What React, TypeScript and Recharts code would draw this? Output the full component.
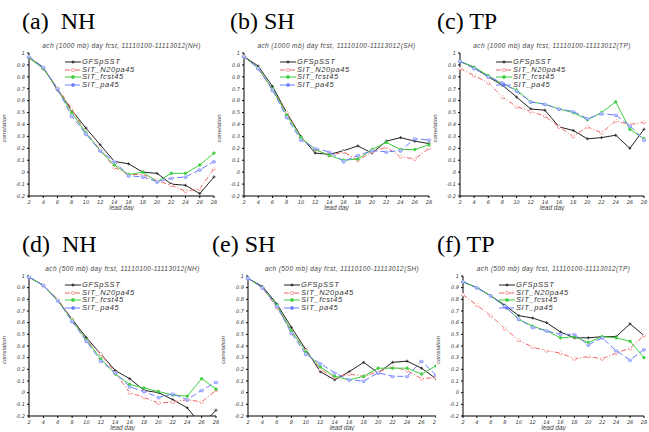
import React from "react";
import { LineChart, Line, XAxis, YAxis } from "recharts";

const days = [2, 4, 6, 8, 10, 12, 14, 16, 18, 20, 22, 24, 26, 28];
const yTicks = [-0.2, -0.1, 0, 0.1, 0.2, 0.3, 0.4, 0.5, 0.6, 0.7, 0.8, 0.9, 1];
const seriesNames = ["GFSpSST", "SIT_N20pa45", "SIT_fcst45", "SIT_pa45"];

// (a) NH 1000 mb
const aGfs = [0.96, 0.88, 0.69, 0.52, 0.37, 0.23, 0.09, 0.07, 0.0, -0.01, -0.1, -0.11, -0.18, -0.04];
const aN20 = [0.96, 0.87, 0.71, 0.53, 0.33, 0.19, 0.04, -0.02, -0.02, -0.07, -0.11, -0.16, -0.14, 0.03];
const aFcst = [0.96, 0.87, 0.7, 0.5, 0.33, 0.18, 0.06, -0.02, 0.0, -0.08, -0.01, -0.01, 0.06, 0.16];
const aPa = [0.97, 0.88, 0.7, 0.47, 0.32, 0.18, 0.09, -0.03, -0.04, -0.08, -0.05, -0.04, 0.02, 0.09];
// (b) SH 1000 mb
const bGfs = [0.97, 0.89, 0.72, 0.5, 0.3, 0.16, 0.15, 0.18, 0.22, 0.16, 0.26, 0.29, 0.26, 0.24];
const bN20 = [0.97, 0.87, 0.69, 0.5, 0.29, 0.19, 0.14, 0.17, 0.1, 0.17, 0.21, 0.13, 0.11, 0.2];
const bFcst = [0.97, 0.87, 0.7, 0.48, 0.29, 0.19, 0.14, 0.1, 0.11, 0.19, 0.25, 0.19, 0.19, 0.23];
const bPa = [0.97, 0.87, 0.69, 0.46, 0.27, 0.2, 0.17, 0.09, 0.14, 0.18, 0.17, 0.18, 0.28, 0.27];
// (c) TP 1000 mb
const cGfs = [0.93, 0.88, 0.8, 0.73, 0.63, 0.53, 0.52, 0.38, 0.35, 0.28, 0.29, 0.31, 0.2, 0.36];
const cN20 = [0.87, 0.81, 0.75, 0.63, 0.55, 0.51, 0.47, 0.38, 0.3, 0.38, 0.33, 0.43, 0.4, 0.42];
const cFcst = [0.93, 0.88, 0.81, 0.74, 0.69, 0.59, 0.57, 0.53, 0.5, 0.44, 0.5, 0.59, 0.36, 0.28];
const cPa = [0.93, 0.87, 0.8, 0.75, 0.68, 0.59, 0.57, 0.53, 0.51, 0.45, 0.49, 0.48, 0.39, 0.27];
// (d) NH 500 mb
const dGfs = [0.99, 0.92, 0.79, 0.63, 0.47, 0.33, 0.19, 0.12, 0.02, 0.0, -0.06, -0.13, -0.28, -0.15];
const dN20 = [0.99, 0.92, 0.8, 0.63, 0.45, 0.33, 0.17, 0.0, -0.04, -0.09, -0.08, -0.06, -0.08, 0.02];
const dFcst = [0.99, 0.92, 0.79, 0.62, 0.45, 0.29, 0.16, 0.07, 0.04, 0.01, -0.02, -0.03, 0.12, 0.03];
const dPa = [0.99, 0.92, 0.79, 0.61, 0.44, 0.27, 0.17, 0.05, 0.01, -0.04, -0.01, -0.06, 0.02, 0.09];
// (e) SH 500 mb
const eGfs = [0.98, 0.91, 0.76, 0.56, 0.37, 0.18, 0.11, 0.18, 0.26, 0.17, 0.26, 0.27, 0.21, 0.12];
const eN20 = [0.98, 0.9, 0.73, 0.53, 0.36, 0.2, 0.13, 0.16, 0.14, 0.18, 0.22, 0.19, 0.12, 0.13];
const eFcst = [0.98, 0.9, 0.75, 0.53, 0.35, 0.22, 0.14, 0.11, 0.14, 0.21, 0.21, 0.21, 0.16, 0.23];
const ePa = [0.98, 0.9, 0.74, 0.51, 0.33, 0.25, 0.17, 0.11, 0.1, 0.17, 0.14, 0.14, 0.27, 0.15];
// (f) TP 500 mb
const fGfs = [0.95, 0.9, 0.83, 0.75, 0.66, 0.64, 0.6, 0.52, 0.47, 0.47, 0.48, 0.48, 0.59, 0.49];
const fN20 = [0.84, 0.75, 0.66, 0.55, 0.45, 0.39, 0.36, 0.34, 0.29, 0.31, 0.29, 0.34, 0.38, 0.49];
const fFcst = [0.95, 0.9, 0.83, 0.74, 0.63, 0.57, 0.53, 0.47, 0.48, 0.43, 0.48, 0.47, 0.44, 0.3];
const fPa = [0.95, 0.9, 0.83, 0.74, 0.63, 0.56, 0.53, 0.5, 0.5, 0.41, 0.47, 0.36, 0.28, 0.37];

const COLORS = ["#222222", "#f26464", "#3fcf3f", "#6a7cff"];
const DASH = [undefined, "5 2 1 2", undefined, "6 3"];

function build(s: number[][]) {
  return days.map((d, i) => ({ day: d, s0: s[0][i], s1: s[1][i], s2: s[2][i], s3: s[3][i] }));
}

const PlusDot = (props: any) => {
  const { cx, cy } = props;
  if (cx == null || cy == null) return null;
  return (
    <g>
      <line x1={cx - 1.5} x2={cx + 1.5} y1={cy} y2={cy} stroke={COLORS[0]} strokeWidth={0.8} />
      <line x1={cx} x2={cx} y1={cy - 1.5} y2={cy + 1.5} stroke={COLORS[0]} strokeWidth={0.8} />
    </g>
  );
};

const LegendBox = () => (
  <div style={{ fontFamily: "Liberation Sans, Arial, sans-serif", fontStyle: "italic", fontSize: 7.5, color: "#333", lineHeight: "7.7px" }}>
    {seriesNames.map((n, i) => (
      <div key={n} style={{ display: "flex", alignItems: "center", whiteSpace: "nowrap" }}>
        <svg width={16} height={6} style={{ marginRight: 1 }}>
          <line x1={0} x2={16} y1={3} y2={3} stroke={COLORS[i]} strokeWidth={1} strokeDasharray={DASH[i]} />
          {i === 0 ? (
            <g>
              <line x1={6.5} x2={9.5} y1={3} y2={3} stroke={COLORS[0]} />
              <line x1={8} x2={8} y1={1.5} y2={4.5} stroke={COLORS[0]} />
            </g>
          ) : (
            <circle cx={8} cy={3} r={1.6} fill={i === 1 ? "#fff" : COLORS[i]} stroke={COLORS[i]} strokeWidth={0.6} />
          )}
        </svg>
        <span style={{ letterSpacing: 0.6 }}>{n}</span>
      </div>
    ))}
  </div>
);

type PanelProps = {
  tag: string;
  region: string;
  labelX: number;
  labelGap: string;
  plotX: number;
  plotY: number;
  plotW: number;
  plotH: number;
  level: string;
  series: number[][];
};

const YW = 27;
const XH = 15;
const TOPM = 2;

function Panel(p: PanelProps) {
  const data = build(p.series);
  const left = p.plotX - YW;
  const top = p.plotY - TOPM;
  const width = YW + p.plotW + 4;
  const height = TOPM + p.plotH + XH;
  return (
    <>
      <div
        style={{
          position: "absolute",
          left,
          top: top - 14,
          width: width,
          height: height + 14,
          background: "#fff",
        }}
      />
      <div
        style={{
          position: "absolute",
          left: p.labelX,
          top: p.plotY - 45,
          fontFamily: "Liberation Serif, Times New Roman, serif",
          fontSize: 24,
          lineHeight: "26px",
          whiteSpace: "pre",
          color: "#000",
        }}
      >
        {p.tag + p.labelGap + p.region}
      </div>
      <div style={{ position: "absolute", left, top }}>
        <LineChart width={width} height={height} data={data} margin={{ top: TOPM, right: 4, bottom: 0, left: 0 }}>
          <XAxis
            dataKey="day"
            type="number"
            domain={[2, 28]}
            ticks={days}
            height={XH}
            stroke="#000"
            strokeWidth={1}
            tickSize={2}
            interval={0}
            tick={{ fontSize: 5, fill: "#333", fontFamily: "DejaVu Sans, sans-serif", fontStyle: "italic" }}
            label={{ value: "lead day", position: "insideBottom", offset: 1, fontSize: 6.5, fill: "#444", fontStyle: "italic", fontFamily: "Liberation Sans, sans-serif" }}
          />
          <XAxis xAxisId="top" dataKey="day" type="number" domain={[2, 28]} orientation="top" height={0} tick={false} tickLine={false} stroke="#000" />
          <YAxis
            type="number"
            domain={[-0.2, 1]}
            ticks={yTicks}
            allowDataOverflow
            width={YW}
            stroke="#000"
            tickSize={2}
            interval={0}
            tickFormatter={(v: number) => String(Math.round(v * 10) / 10)}
            tick={{ fontSize: 5, fill: "#333", fontFamily: "DejaVu Sans, sans-serif", fontStyle: "italic" }}
            label={{ value: "correlation", angle: -90, position: "insideLeft", offset: 2, fontSize: 6, fill: "#444", fontStyle: "italic", fontFamily: "Liberation Sans, sans-serif", dy: 18 }}
          />
          <YAxis yAxisId="right" orientation="right" width={0} tick={false} tickLine={false} stroke="#000" domain={[-0.2, 1]} />
          <Line dataKey="s0" name={seriesNames[0]} stroke={COLORS[0]} strokeWidth={1} dot={<PlusDot />} isAnimationActive={false} />
          <Line dataKey="s1" name={seriesNames[1]} stroke={COLORS[1]} strokeWidth={1} strokeDasharray={DASH[1]} dot={{ r: 1.6, fill: "#fff", stroke: COLORS[1], strokeWidth: 0.6 }} isAnimationActive={false} />
          <Line dataKey="s2" name={seriesNames[2]} stroke={COLORS[2]} strokeWidth={1} dot={{ r: 1.2, fill: COLORS[2], stroke: COLORS[2] }} isAnimationActive={false} />
          <Line dataKey="s3" name={seriesNames[3]} stroke={COLORS[3]} strokeWidth={1} strokeDasharray={DASH[3]} dot={{ r: 1.7, fill: "#b8c0ff", stroke: COLORS[3], strokeWidth: 0.6 }} isAnimationActive={false} />
        </LineChart>
      </div>
      <div style={{ position: "absolute", left: p.plotX + 36, top: p.plotY + 5 }}>
        <LegendBox />
      </div>
      <div
        style={{
          position: "absolute",
          left: p.plotX - 20,
          width: p.plotW + 40,
          top: p.plotY - 11,
          textAlign: "center",
          fontFamily: "Liberation Sans, Arial, sans-serif",
          fontStyle: "italic",
          fontSize: 6.5,
          letterSpacing: 0.4,
          lineHeight: "8px",
          color: "#444",
          whiteSpace: "nowrap",
        }}
      >
        {`ach (${p.level} mb) day fcst, 11110100-11113012(${p.region})`}
      </div>
    </>
  );
}

export default function App() {
  return (
    <div style={{ position: "absolute", left: 0, top: 0, width: 649, height: 432, overflow: "hidden", background: "#fff" }}>
      <Panel tag="(a)" region="NH" labelX={22} labelGap="  " plotX={29} plotY={53} plotW={185} plotH={143} level="1000" series={[aGfs, aN20, aFcst, aPa]} />
      <Panel tag="(b)" region="SH" labelX={230} labelGap=" " plotX={244} plotY={53} plotW={185} plotH={143} level="1000" series={[bGfs, bN20, bFcst, bPa]} />
      <Panel tag="(c)" region="TP" labelX={437} labelGap=" " plotX={460} plotY={53} plotW={184} plotH={143} level="1000" series={[cGfs, cN20, cFcst, cPa]} />
      <Panel tag="(d)" region="NH" labelX={22} labelGap="  " plotX={29} plotY={276} plotW={187} plotH={140} level="500" series={[dGfs, dN20, dFcst, dPa]} />
      <Panel tag="(e)" region="SH" labelX={212} labelGap=" " plotX={248} plotY={276} plotW={188} plotH={140} level="500" series={[eGfs, eN20, eFcst, ePa]} />
      <Panel tag="(f)" region="TP" labelX={437} labelGap=" " plotX={463} plotY={276} plotW={181} plotH={140} level="500" series={[fGfs, fN20, fFcst, fPa]} />
    </div>
  );
}
